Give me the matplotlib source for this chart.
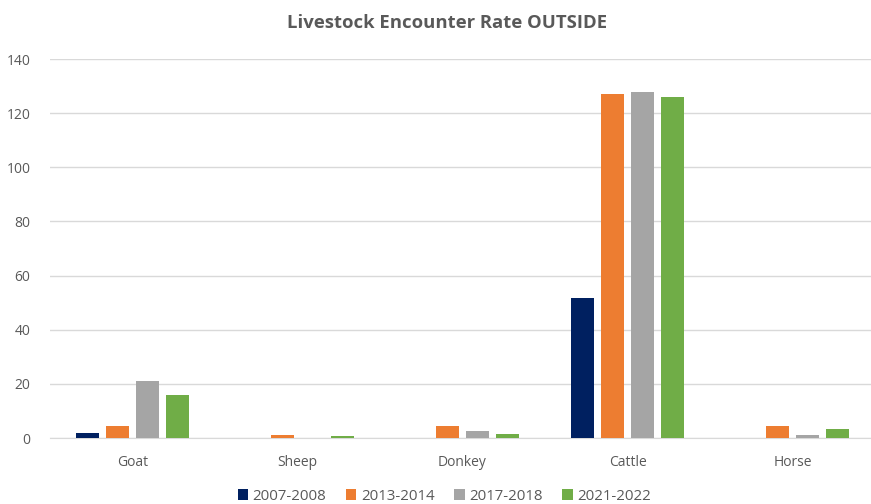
import numpy as np
import matplotlib.pyplot as plt

categories = ['Goat', 'Sheep', 'Donkey', 'Cattle', 'Horse']
periods = ['2007-2008', '2013-2014', '2017-2018', '2021-2022']
rate_2007 = [1.8, 0, 0, 51.7, 0]
rate_2013 = [4.6, 1.0, 4.3, 127.0, 4.3]
rate_2017 = [21.1, 0, 2.7, 127.7, 1.0]
rate_2021 = [15.7, 0.6, 1.6, 126.1, 3.3]
colors = ['#002060', '#ED7D31', '#A5A5A5', '#70AD47']

plt.rcParams['font.family'] = ['Open Sans', 'DejaVu Sans']
fig = plt.figure(figsize=(8.71, 5.04), dpi=100)
ax = fig.add_axes([50 / 871, 66 / 504, 825 / 871, 379 / 504])

x = np.arange(len(categories))
step = 0.182
width = 0.139
series = [rate_2007, rate_2013, rate_2017, rate_2021]
for i, (vals, lab, c) in enumerate(zip(series, periods, colors)):
    ax.bar(x + (i - 1.5) * step, vals, width, color=c, label=lab, zorder=3)

ax.set_xlim(-0.5, 4.5)
ax.set_ylim(0, 140)
ax.set_yticks(np.arange(0, 141, 20))
ax.set_xticks(x)
ax.set_xticklabels(categories)
ax.yaxis.grid(True, color='#D9D9D9', linewidth=1, zorder=0)
for s in ['top', 'right', 'left']:
    ax.spines[s].set_visible(False)
ax.spines['bottom'].set_color('#D9D9D9')
ax.tick_params(axis='both', length=0, labelsize=10, colors='#595959')
ax.tick_params(axis='x', pad=12)
ax.tick_params(axis='y', pad=14)

fig.text(0.513, 0.955, 'Livestock Encounter Rate OUTSIDE', ha='center', va='center',
         fontsize=13.3, fontweight='bold', color='#595959')
fig.legend(loc='center', bbox_to_anchor=(0.51, 0.015), ncol=4, frameon=False,
           fontsize=10.8, handlelength=0.7, handleheight=0.7, handletextpad=0.3,
           columnspacing=1.3, labelcolor='#595959')

fig.savefig('out.png', dpi=100)
